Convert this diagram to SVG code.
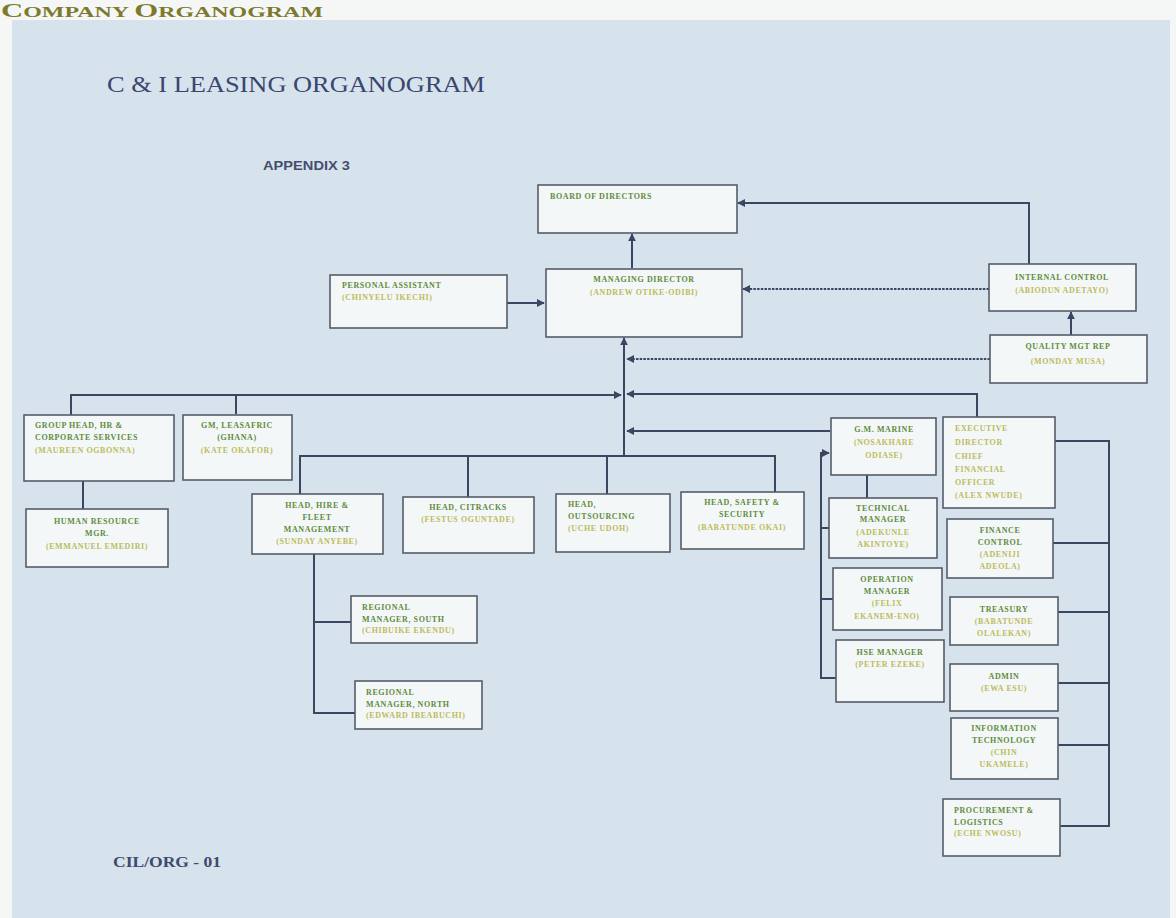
<svg xmlns="http://www.w3.org/2000/svg" width="1176" height="918" viewBox="0 0 1176 918">
<style>
.box{fill:#f4f7f8;stroke:#565c69;stroke-width:1.6}
.ln{fill:none;stroke:#3b4663;stroke-width:2}
.dot{fill:none;stroke:#3b4663;stroke-width:2;stroke-dasharray:2.5 1.2}
.t{font-family:"Liberation Serif",serif;font-weight:bold;font-size:8px;letter-spacing:0.6px;fill:#5f8c3c;text-anchor:middle}
.n{font-family:"Liberation Serif",serif;font-weight:bold;font-size:8px;letter-spacing:0.6px;fill:#bcbc5c;text-anchor:middle}
.l{text-anchor:start}
</style>
<defs>
<marker id="ar" viewBox="0 0 10 10" refX="9" refY="5" markerWidth="4" markerHeight="4" orient="auto" markerUnits="strokeWidth">
<path d="M0,0 L10,5 L0,10 z" fill="#3b4663"/>
</marker>
</defs>
<rect x="0" y="0" width="1176" height="918" fill="#f5f7f7"/>
<rect x="12" y="20" width="1158" height="898" fill="#d6e3ec"/>
<text x="1" y="17" font-family="Liberation Serif,serif" font-weight="bold" fill="#7d7a2e" font-size="14" textLength="322" lengthAdjust="spacingAndGlyphs"><tspan font-size="18">C</tspan>OMPANY <tspan font-size="18">O</tspan>RGANOGRAM</text>
<text x="107" y="92" font-family="Liberation Serif,serif" font-size="24" fill="#3a4670" textLength="378" lengthAdjust="spacingAndGlyphs">C &amp; I LEASING ORGANOGRAM</text>
<text x="263" y="170" font-family="Liberation Sans,sans-serif" font-weight="bold" font-size="12" fill="#464e6e" textLength="87" lengthAdjust="spacingAndGlyphs">APPENDIX 3</text>
<text x="113" y="867" font-family="Liberation Serif,serif" font-weight="bold" font-size="14" fill="#3e4a6e" textLength="108" lengthAdjust="spacingAndGlyphs">CIL/ORG - 01</text>

<g id="connectors">
<path class="ln" d="M632,268 V234" marker-end="url(#ar)"/>
<path class="ln" d="M507,303 H544" marker-end="url(#ar)"/>
<path class="ln" d="M1029,264 V203 H738" marker-end="url(#ar)"/>
<path class="dot" d="M989,289 H743" marker-end="url(#ar)"/>
<path class="ln" d="M1071,335 V312" marker-end="url(#ar)"/>
<path class="dot" d="M990,359 H627" marker-end="url(#ar)"/>
<path class="ln" d="M624,456 V338" marker-end="url(#ar)"/>
<path class="ln" d="M71,415 V395 H621" marker-end="url(#ar)"/>
<path class="ln" d="M236,414 V395"/>
<path class="ln" d="M977,417 V394 H627" marker-end="url(#ar)"/>
<path class="ln" d="M830,431 H627" marker-end="url(#ar)"/>
<path class="ln" d="M300,494 V456 H775 V492"/>
<path class="ln" d="M468,456 V497"/>
<path class="ln" d="M607,456 V494"/>
<path class="ln" d="M83,481 V509"/>
<path class="ln" d="M314,554 V713 H355"/>
<path class="ln" d="M314,622 H351"/>
<path class="ln" d="M836,678 H821 V453 H829" marker-end="url(#ar)"/>
<path class="ln" d="M821,528 H829"/>
<path class="ln" d="M821,599 H833"/>
<path class="ln" d="M867,475 V498"/>
<path class="ln" d="M1055,441 H1109 V826 H1060"/>
<path class="ln" d="M1053,543 H1109"/>
<path class="ln" d="M1058,612 H1109"/>
<path class="ln" d="M1058,683 H1109"/>
<path class="ln" d="M1058,745 H1109"/>
</g>

<g id="board"><rect class="box" x="538" y="185" width="199" height="48"/>
<text class="t l" x="550" y="199">BOARD OF DIRECTORS</text></g>
<g id="md"><rect class="box" x="546" y="269" width="196" height="68"/>
<text class="t" x="644" y="282">MANAGING DIRECTOR</text><text class="n" x="644" y="295">(ANDREW OTIKE-ODIBI)</text></g>
<g id="pa"><rect class="box" x="330" y="275" width="177" height="53"/>
<text class="t l" x="342" y="288">PERSONAL ASSISTANT</text><text class="n l" x="342" y="300">(CHINYELU IKECHI)</text></g>
<g id="ic"><rect class="box" x="989" y="264" width="147" height="47"/>
<text class="t" x="1062" y="280">INTERNAL CONTROL</text><text class="n" x="1062" y="293">(ABIODUN ADETAYO)</text></g>
<g id="qm"><rect class="box" x="990" y="335" width="157" height="48"/>
<text class="t" x="1068" y="349">QUALITY MGT REP</text><text class="n" x="1068" y="364">(MONDAY MUSA)</text></g>
<g id="gh"><rect class="box" x="24" y="415" width="150" height="66"/>
<text class="t l" x="35" y="428">GROUP HEAD, HR &amp;</text><text class="t l" x="35" y="440">CORPORATE SERVICES</text><text class="n l" x="35" y="453">(MAUREEN OGBONNA)</text></g>
<g id="gm"><rect class="box" x="183" y="415" width="109" height="65"/>
<text class="t" x="237" y="428">GM, LEASAFRIC</text><text class="t" x="237" y="440">(GHANA)</text><text class="n" x="237" y="453">(KATE OKAFOR)</text></g>
<g id="hr"><rect class="box" x="26" y="509" width="142" height="58"/>
<text class="t" x="97" y="524">HUMAN RESOURCE</text><text class="t" x="97" y="536">MGR.</text><text class="n" x="97" y="549">(EMMANUEL EMEDIRI)</text></g>
<g id="fleet"><rect class="box" x="252" y="494" width="131" height="60"/>
<text class="t" x="317" y="508">HEAD, HIRE &amp;</text><text class="t" x="317" y="520">FLEET</text><text class="t" x="317" y="532">MANAGEMENT</text><text class="n" x="317" y="544">(SUNDAY ANYEBE)</text></g>
<g id="citracks"><rect class="box" x="403" y="497" width="131" height="56"/>
<text class="t" x="468" y="510">HEAD, CITRACKS</text><text class="n" x="468" y="522">(FESTUS OGUNTADE)</text></g>
<g id="outsourcing"><rect class="box" x="556" y="494" width="114" height="58"/>
<text class="t l" x="568" y="507">HEAD,</text><text class="t l" x="568" y="519">OUTSOURCING</text><text class="n l" x="568" y="531">(UCHE UDOH)</text></g>
<g id="safety"><rect class="box" x="681" y="492" width="123" height="57"/>
<text class="t" x="742" y="505">HEAD, SAFETY &amp;</text><text class="t" x="742" y="517">SECURITY</text><text class="n" x="742" y="530">(BABATUNDE OKAI)</text></g>
<g id="south"><rect class="box" x="351" y="596" width="126" height="47"/>
<text class="t l" x="362" y="610">REGIONAL</text><text class="t l" x="362" y="622">MANAGER, SOUTH</text><text class="n l" x="362" y="633">(CHIBUIKE EKENDU)</text></g>
<g id="north"><rect class="box" x="355" y="681" width="127" height="48"/>
<text class="t l" x="366" y="695">REGIONAL</text><text class="t l" x="366" y="707">MANAGER, NORTH</text><text class="n l" x="366" y="718">(EDWARD IBEABUCHI)</text></g>
<g id="marine"><rect class="box" x="831" y="418" width="105" height="57"/>
<text class="t" x="884" y="432">G.M. MARINE</text><text class="n" x="884" y="445">(NOSAKHARE</text><text class="n" x="884" y="458">ODIASE)</text></g>
<g id="exec"><rect class="box" x="943" y="417" width="112" height="91"/>
<text class="n l" x="955" y="431">EXECUTIVE</text><text class="n l" x="955" y="445">DIRECTOR</text><text class="n l" x="955" y="459">CHIEF</text><text class="n l" x="955" y="472">FINANCIAL</text><text class="n l" x="955" y="485">OFFICER</text><text class="n l" x="955" y="498">(ALEX NWUDE)</text></g>
<g id="technical"><rect class="box" x="829" y="498" width="108" height="60"/>
<text class="t" x="883" y="511">TECHNICAL</text><text class="t" x="883" y="522">MANAGER</text><text class="n" x="883" y="535">(ADEKUNLE</text><text class="n" x="883" y="547">AKINTOYE)</text></g>
<g id="operation"><rect class="box" x="833" y="568" width="109" height="62"/>
<text class="t" x="887" y="582">OPERATION</text><text class="t" x="887" y="594">MANAGER</text><text class="n" x="887" y="606">(FELIX</text><text class="n" x="887" y="619">EKANEM-ENO)</text></g>
<g id="hse"><rect class="box" x="836" y="640" width="108" height="62"/>
<text class="t" x="890" y="655">HSE MANAGER</text><text class="n" x="890" y="667">(PETER EZEKE)</text></g>
<g id="finance"><rect class="box" x="947" y="519" width="106" height="59"/>
<text class="t" x="1000" y="533">FINANCE</text><text class="t" x="1000" y="545">CONTROL</text><text class="n" x="1000" y="557">(ADENIJI</text><text class="n" x="1000" y="569">ADEOLA)</text></g>
<g id="treasury"><rect class="box" x="950" y="597" width="108" height="48"/>
<text class="t" x="1004" y="612">TREASURY</text><text class="n" x="1004" y="624">(BABATUNDE</text><text class="n" x="1004" y="636">OLALEKAN)</text></g>
<g id="admin"><rect class="box" x="950" y="664" width="108" height="47"/>
<text class="t" x="1004" y="679">ADMIN</text><text class="n" x="1004" y="691">(EWA ESU)</text></g>
<g id="it"><rect class="box" x="951" y="718" width="107" height="61"/>
<text class="t" x="1004" y="731">INFORMATION</text><text class="t" x="1004" y="743">TECHNOLOGY</text><text class="n" x="1004" y="755">(CHIN</text><text class="n" x="1004" y="767">UKAMELE)</text></g>
<g id="procurement"><rect class="box" x="943" y="799" width="117" height="57"/>
<text class="t l" x="954" y="813">PROCUREMENT &amp;</text><text class="t l" x="954" y="825">LOGISTICS</text><text class="n l" x="954" y="836">(ECHE NWOSU)</text></g>
</svg>
